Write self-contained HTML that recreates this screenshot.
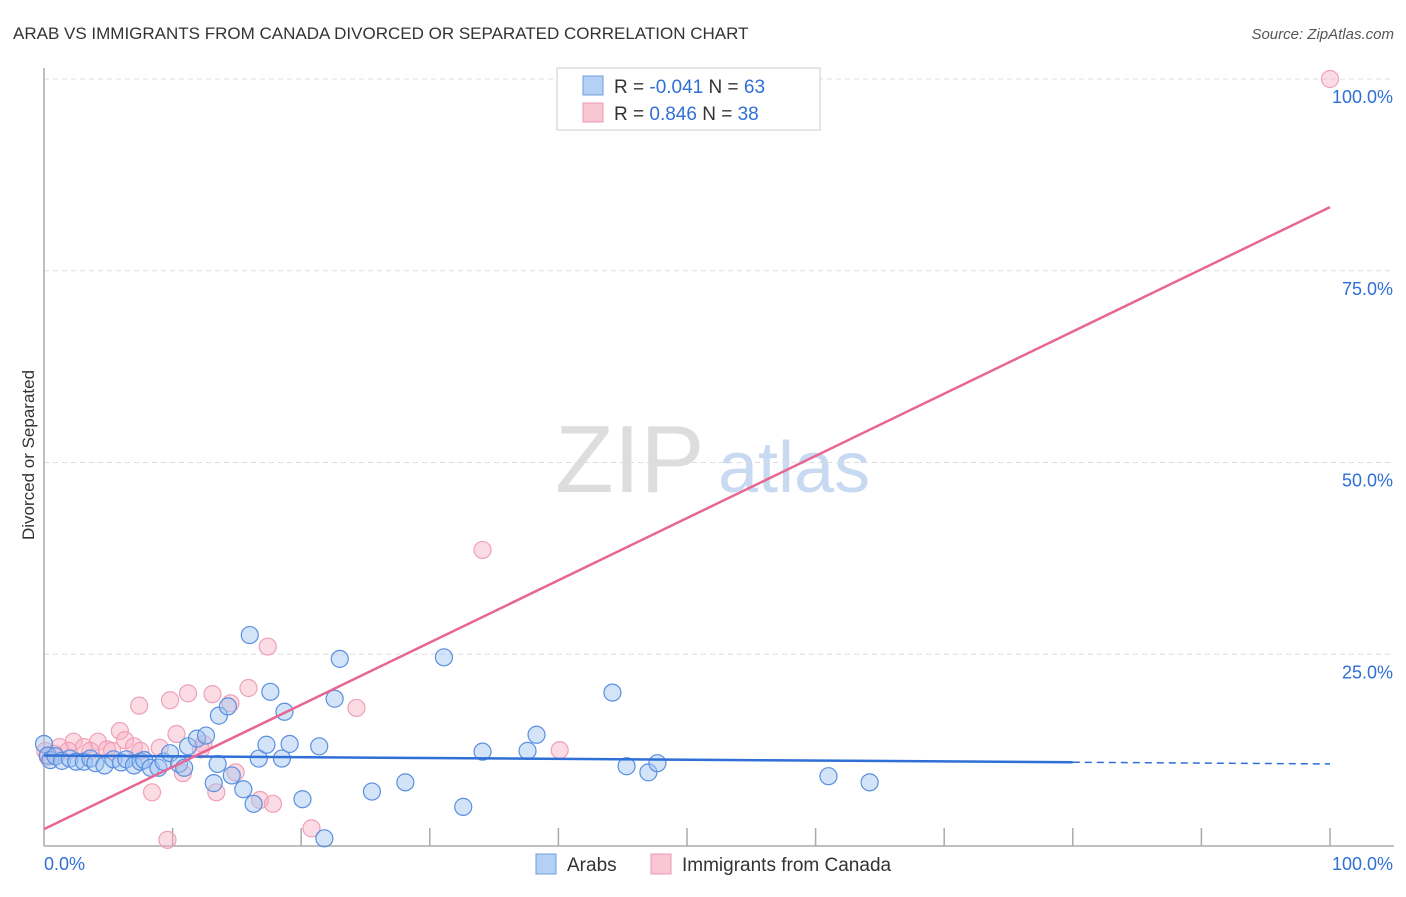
<!DOCTYPE html>
<html><head><meta charset="utf-8"><style>
body{margin:0;background:#fff;font-family:"Liberation Sans",sans-serif;}
svg text{font-family:"Liberation Sans",sans-serif;}
</style></head><body>
<svg width="1406" height="892" viewBox="0 0 1406 892">
<text x="13" y="39" font-size="17" fill="#333">ARAB VS IMMIGRANTS FROM CANADA DIVORCED OR SEPARATED CORRELATION CHART</text>
<text x="1394" y="39" font-size="15" fill="#555" text-anchor="end" font-style="italic">Source: ZipAtlas.com</text>
<text x="34" y="455" font-size="17" fill="#333" text-anchor="middle" transform="rotate(-90 34 455)">Divorced or Separated</text>
<text x="555" y="492" font-size="96" fill="#ddd" font-family="Liberation Serif">ZIP</text>
<text x="718" y="492" font-size="72" fill="#c8d9f2">atlas</text>
<g id="grid"></g>
<g id="axes"></g>
<g id="pts"></g>
<g id="lines"></g>
<g>
<rect x="557" y="68" width="263" height="62" fill="#fff" stroke="#ccc"/>
<rect x="583" y="76" width="20" height="19" fill="#b5d0f5" stroke="#6e9fe0"/>
<rect x="583" y="103" width="20" height="19" fill="#f9c6d4" stroke="#ec9ab2"/>
<text x="614" y="93" font-size="19" fill="#333">R = <tspan fill="#2f6fd6">-0.041</tspan>  N = <tspan fill="#2f6fd6">63</tspan></text>
<text x="614" y="120" font-size="19" fill="#333">R =  <tspan fill="#2f6fd6"> 0.846</tspan>   N = <tspan fill="#2f6fd6">38</tspan></text>
</g>
<g>
<rect x="536" y="854" width="20" height="20" fill="#b5d0f5" stroke="#6e9fe0"/>
<text x="567" y="871" font-size="19" fill="#333">Arabs</text>
<rect x="651" y="854" width="20" height="20" fill="#f9c6d4" stroke="#ec9ab2"/>
<text x="682" y="871" font-size="19" fill="#333">Immigrants from Canada</text>
</g>
</svg>
<script>
const yTicks=[25,50,75,100];
const yTickLabels=["25.0%","50.0%","75.0%","100.0%"];
const arabsX=[0,0.3,0.5,0.9,1.4,2.0,2.5,3.1,3.6,4.0,4.7,5.4,6.0,6.4,7.0,7.5,7.8,8.3,8.9,9.3,9.8,10.5,10.9,11.2,11.9,12.6,13.2,13.5,13.6,14.3,14.6,15.5,16.0,16.3,16.7,17.3,17.6,18.5,18.7,19.1,20.1,21.4,21.8,22.6,23.0,25.5,28.1,31.1,32.6,34.1,37.6,38.3,44.2,45.3,47.0,47.7,61.0,64.2];
const arabsY=[13.3,11.8,11.2,11.7,11.1,11.4,11.0,11.0,11.4,10.8,10.5,11.3,10.9,11.3,10.5,11.0,11.2,10.2,10.2,11.0,12.1,10.7,10.2,13.0,14.0,14.4,8.2,10.7,17.0,18.2,9.2,7.4,27.5,5.5,11.4,13.2,20.1,11.4,17.5,13.3,6.1,13.0,1.0,19.2,24.4,7.1,8.3,24.6,5.1,12.3,12.4,14.5,20.0,10.4,9.6,10.8,9.1,8.3,8.3];
const canX=[100,34.1,17.4,15.9,11.2,9.8,13.1,7.4,14.5,24.3,5.9,10.3,12.4,6.3,4.2,2.3,1.2,3.1,4.9,7.0,9.0,0.1,0.8,12.2,10.8,14.9,8.4,13.4,16.8,17.8,20.8,9.6,40.1,7.5,3.6,1.9,5.3,0.3];
const canY=[100,38.6,26.0,20.6,19.9,19.0,19.8,18.3,18.6,18.0,15.0,14.6,13.3,13.8,13.6,13.6,12.9,12.9,12.6,13.0,12.8,12.4,12.0,12.6,9.5,9.6,7.0,7.0,6.0,5.5,2.3,0.8,12.5,12.4,12.4,12.4,12.4,11.6];
const arabsFit=[11.8,10.7];
const canFit=[2.2,83.3];
const NS="http://www.w3.org/2000/svg";
const X=v=>44+v*12.86, Y=v=>846-v*7.67;
function mk(tag,attrs,parent){const e=document.createElementNS(NS,tag);for(const k in attrs)e.setAttribute(k,attrs[k]);parent.appendChild(e);return e;}
const grid=document.getElementById('grid'),axes=document.getElementById('axes'),pts=document.getElementById('pts'),lines=document.getElementById('lines');
yTicks.forEach((t,i)=>{
 const l=mk('line',{x1:44,x2:1394,y1:Y(t),y2:Y(t),stroke:'#ddd','stroke-dasharray':'5,4'},grid);
 
 
 const tx=mk('text',{x:1393,y:Y(t)+24,'font-size':18,fill:'#2f6fd6','text-anchor':'end'},axes);
 tx.textContent=yTickLabels[i];
 
 
});
const ax=mk('line',{x1:44,x2:44,y1:68,y2:846,stroke:'#aaa','stroke-width':1.5},axes);


const bx=mk('line',{x1:44,x2:1394,y1:846,y2:846,stroke:'#aaa','stroke-width':1.5},axes);


for(let i=1;i<=10;i++){const v=i*10;const tk=mk('line',{x1:X(v),x2:X(v),y1:846,y2:(i%2?828:828),stroke:'#aaa','stroke-width':1.5},axes);
 
 }
const x0=mk('text',{x:44,y:870,'font-size':18,fill:'#2f6fd6'},axes);x0.textContent='0.0%';


const x1=mk('text',{x:1393,y:870,'font-size':18,fill:'#2f6fd6','text-anchor':'end'},axes);x1.textContent='100.0%';


canX.forEach((v,i)=>{const c=mk('circle',{cx:X(v),cy:Y(canY[i]),r:8.5,fill:'rgba(246,177,197,0.45)',stroke:'#efa0b8','stroke-width':1.2},pts);
 
 });
arabsX.forEach((v,i)=>{const c=mk('circle',{cx:X(v),cy:Y(arabsY[i]),r:8.5,fill:'rgba(160,195,240,0.45)',stroke:'#5a8fe0','stroke-width':1.2},pts);
 
 });
const ay=v=>arabsFit[0]+(arabsFit[1]-arabsFit[0])*v/100;
const l1=mk('line',{x1:X(0),y1:Y(ay(0)),x2:X(80),y2:Y(ay(80)),stroke:'#2f6fd6','stroke-width':2.5},lines);


const l2=mk('line',{x1:X(80),y1:Y(ay(80)),x2:X(100),y2:Y(ay(100)),stroke:'#2f6fd6','stroke-width':1.5,'stroke-dasharray':'7,5'},lines);


const l3=mk('line',{x1:X(0),y1:Y(canFit[0]),x2:X(100),y2:Y(canFit[1]),stroke:'#e86792','stroke-width':2.5},lines);


</script>
</body></html>
